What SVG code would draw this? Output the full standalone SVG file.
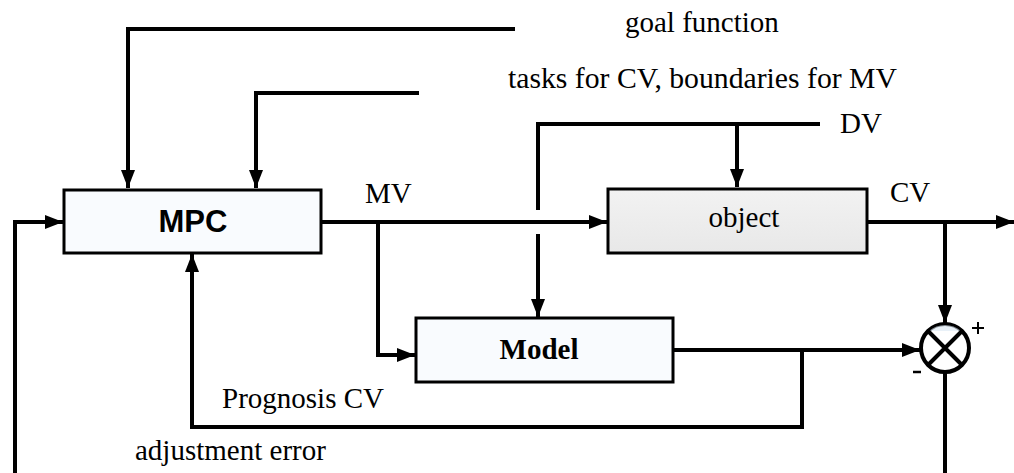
<svg xmlns="http://www.w3.org/2000/svg" width="1014" height="473" viewBox="0 0 1014 473">
<defs>
<marker id="ah" markerUnits="userSpaceOnUse" markerWidth="20" markerHeight="16" refX="18" refY="7" orient="auto">
<path d="M0,0 L18,7 L0,14 z" fill="#000"/>
</marker>
<linearGradient id="og" x1="0" y1="0" x2="0" y2="1">
<stop offset="0" stop-color="#f2f2f2"/>
<stop offset="1" stop-color="#e8e8e8"/>
</linearGradient>
</defs>
<style>
.ln{fill:none;stroke:#000;stroke-width:4}
.ar{marker-end:url(#ah)}
.box{stroke:#000;stroke-width:3}
</style>
<rect width="1014" height="473" fill="#fff"/>
<g id="connectors">
<path class="ln ar" d="M515,29 H128 V188"/>
<path class="ln ar" d="M419,93 H256 V188"/>
<path class="ln ar" d="M15,473 V222 H63"/>
<path class="ln ar" d="M321,222 H607"/>
<path class="ln ar" d="M378,222 V355 H415"/>
<path class="ln" d="M820,124 H538 V210"/>
<path class="ln ar" d="M538,234 V317"/>
<path class="ln ar" d="M737,124 V187"/>
<path class="ln ar" d="M867,222 H1014"/>
<path class="ln ar" d="M945,222 V323"/>
<path class="ln ar" d="M673,350 H920"/>
<path class="ln ar" d="M802,350 V427 H192 V254"/>
<path class="ln" d="M945,372 V473"/>
</g>
<g id="MPC">
<rect class="box" x="64" y="190" width="257" height="63" fill="#f9fbfe"/>
<text x="193" y="232" text-anchor="middle" font-family="'Liberation Sans', Arial, sans-serif" font-weight="bold" font-size="31">MPC</text>
</g>
<g id="object">
<rect class="box" x="608" y="189" width="259" height="64" fill="url(#og)"/>
<text x="744" y="227" text-anchor="middle" font-family="'Liberation Serif', 'Times New Roman', serif" font-size="29">object</text>
</g>
<g id="Model">
<rect class="box" x="416" y="318" width="257" height="64" fill="#f9fbfe"/>
<text x="539" y="359" text-anchor="middle" font-family="'Liberation Serif', 'Times New Roman', serif" font-weight="bold" font-size="29">Model</text>
</g>
<g id="sum">
<circle cx="945" cy="348" r="24" fill="#fff" stroke="#000" stroke-width="4"/>
<path d="M929,331 A24,24 0 0 1 961,331 Z" fill="#dbe8f4" opacity="0.6"/>
<path class="ln" d="M928,331 L962,365 M962,331 L928,365"/>
<path d="M978,322 V334 M972,328 H984" stroke="#000" stroke-width="2" fill="none"/>
<path d="M913,372 H921" stroke="#000" stroke-width="2.5" fill="none"/>
</g>
<g id="labels" font-family="'Liberation Serif', 'Times New Roman', serif" font-size="29" fill="#000">
<text x="625" y="32">goal function</text>
<text x="508" y="88" textLength="389" lengthAdjust="spacingAndGlyphs">tasks for CV, boundaries for MV</text>
<text x="840" y="133">DV</text>
<text x="365" y="203">MV</text>
<text x="890" y="202">CV</text>
<text x="222" y="408">Prognosis CV</text>
<text x="135" y="460">adjustment error</text>
</g>
</svg>
